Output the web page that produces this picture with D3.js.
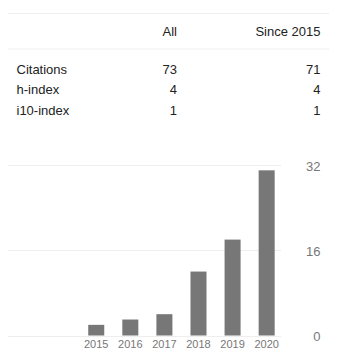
<!DOCTYPE html>
<html><head><meta charset="utf-8">
<script src="https://cdn.jsdelivr.net/npm/d3@7"></script>
<style>
html,body{margin:0;padding:0;background:#fff;}
svg{display:block;font-family:Arial,"Liberation Sans",sans-serif;}
</style></head>
<body>
<svg id="c" width="339" height="364"></svg>
<script>
const columns = ["All", "Since 2015"];
const rowLabels = ["Citations", "h-index", "i10-index"];
const allValues = [73, 4, 1];
const sinceValues = [71, 4, 1];
const years = ["2015", "2016", "2017", "2018", "2019", "2020"];
const citations = [2, 3, 4, 12, 18, 31];
const yTicks = [0, 16, 32];

const svg = d3.select("#c");

// table
svg.append("line").attr("x1", 8).attr("x2", 329).attr("y1", 13.5).attr("y2", 13.5).attr("stroke", "#eee");
svg.append("line").attr("x1", 8).attr("x2", 329).attr("y1", 49).attr("y2", 49).attr("stroke", "#eee");
const colX = [177, 320.5];
svg.selectAll("text.hdr").data(columns).join("text").attr("class", "hdr")
  .attr("x", (d, i) => colX[i]).attr("y", 36).attr("text-anchor", "end")
  .attr("font-size", 13).attr("fill", "#222").text(d => d);
const rowY = d3.scalePoint().domain(rowLabels).range([73.5, 115]);
svg.selectAll("text.rl").data(rowLabels).join("text").attr("class", "rl")
  .attr("x", 16.5).attr("y", d => rowY(d)).attr("font-size", 13).attr("fill", "#222").text(d => d);
svg.selectAll("text.va").data(allValues).join("text").attr("class", "va")
  .attr("x", colX[0]).attr("y", (d, i) => rowY(rowLabels[i])).attr("text-anchor", "end")
  .attr("font-size", 13).attr("fill", "#222").text(d => d);
svg.selectAll("text.vs").data(sinceValues).join("text").attr("class", "vs")
  .attr("x", colX[1]).attr("y", (d, i) => rowY(rowLabels[i])).attr("text-anchor", "end")
  .attr("font-size", 13).attr("fill", "#222").text(d => d);

// chart
const y = d3.scaleLinear().domain([0, 32]).range([335.5, 165]);
const x = d3.scaleBand().domain(years).range([79.2, 283.7]).paddingInner(0.53).paddingOuter(0.265);

svg.selectAll("line.grid").data(yTicks).join("line").attr("class", "grid")
  .attr("x1", 8).attr("x2", 281).attr("y1", d => Math.round(y(d)) + 0.5).attr("y2", d => Math.round(y(d)) + 0.5)
  .attr("stroke", "#eee");

svg.selectAll("rect.bar").data(citations).join("rect").attr("class", "bar")
  .attr("x", (d, i) => x(years[i])).attr("width", x.bandwidth())
  .attr("y", d => y(d)).attr("height", d => y(0) - y(d)).attr("fill", "#777");

svg.selectAll("text.yl").data(yTicks).join("text").attr("class", "yl")
  .attr("x", 320.5).attr("y", d => y(d) + 5.5).attr("text-anchor", "end")
  .attr("font-size", 13).attr("fill", "#777").text(d => d);

svg.selectAll("text.xl").data(years).join("text").attr("class", "xl")
  .attr("x", d => x(d) + x.bandwidth() / 2).attr("y", 347.5).attr("text-anchor", "middle")
  .attr("font-size", 11).attr("fill", "#777").text(d => d);
</script>
</body></html>
